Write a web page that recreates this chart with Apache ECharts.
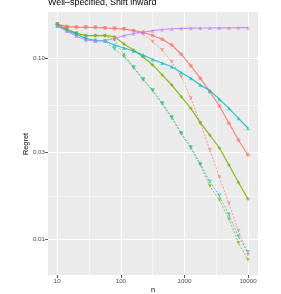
<!DOCTYPE html>
<html><head><meta charset="utf-8">
<script src="https://cdn.jsdelivr.net/npm/echarts@6/dist/echarts.min.js"></script>
<style>html,body{margin:0;padding:0;background:#fff}#c{width:281px;height:294px}</style>
</head><body><div id="c"></div>
<script>
const titleText = 'Well\u2013specified, Shift inward';
const nValues = [10, 14.13, 19.95, 28.18, 39.81, 56.23, 79.43, 112.2, 158.5, 223.9, 316.2, 446.7, 631.0, 891.3, 1259, 1778, 2512, 3548, 5012, 7079, 10000];
const xTicks = [10, 100, 1000, 10000];
const xMinor = [31.62, 316.2, 3162];
const yTicks = [0.01, 0.03, 0.10];
const yMinor = [0.01732, 0.05477];

const redSolid   = [0.1535, 0.1489, 0.1478, 0.1478, 0.1474, 0.1464, 0.1455, 0.1446, 0.1415, 0.1387, 0.1331, 0.1269, 0.1180, 0.1048, 0.0907, 0.0772, 0.0651, 0.0543, 0.0436, 0.0352, 0.0291];
const redDashed  = [0.1535, 0.1489, 0.1478, 0.1478, 0.1474, 0.1464, 0.1455, 0.1446, 0.1410, 0.1357, 0.1230, 0.1107, 0.0954, 0.0788, 0.0599, 0.0437, 0.0310, 0.0219, 0.0157, 0.0111, 0.00816];
const greenSolid = [0.1535, 0.1446, 0.1369, 0.1328, 0.1328, 0.1328, 0.1312, 0.1195, 0.1107, 0.1013, 0.0915, 0.0806, 0.0709, 0.0611, 0.0527, 0.0439, 0.0375, 0.0318, 0.0256, 0.0205, 0.0166];
const greenDashed= [0.1535, 0.1446, 0.1369, 0.1328, 0.1328, 0.1328, 0.1257, 0.1039, 0.0881, 0.0756, 0.0657, 0.0557, 0.0466, 0.0380, 0.0318, 0.0256, 0.0196, 0.0164, 0.0129, 0.0095, 0.00766];
const cyanSolid  = [0.1502, 0.1419, 0.1357, 0.1281, 0.1249, 0.1241, 0.1180, 0.1135, 0.1093, 0.1039, 0.0981, 0.0938, 0.0895, 0.0832, 0.0772, 0.0709, 0.0660, 0.0591, 0.0527, 0.0464, 0.0409];
const cyanDashed = [0.1502, 0.1419, 0.1357, 0.1281, 0.1249, 0.1241, 0.1121, 0.1013, 0.0892, 0.0766, 0.0665, 0.0564, 0.0472, 0.0385, 0.0322, 0.0260, 0.0207, 0.0173, 0.0136, 0.0103, 0.00848];
const purple     = [0.1522, 0.1410, 0.1323, 0.1257, 0.1241, 0.1249, 0.1281, 0.1331, 0.1366, 0.1387, 0.1415, 0.1437, 0.1450, 0.1459, 0.1461, 0.1464, 0.1464, 0.1466, 0.1468, 0.1470, 0.1470];

const seriesDefs = [
  {name:'red solid', data:redSolid, color:'#F8766D', dash:false, symbol:'circle', rot:0},
  {name:'red dashed', data:redDashed, color:'#F8766D', dash:true, symbol:'triangle', rot:180},
  {name:'green solid', data:greenSolid, color:'#7CAE00', dash:false, symbol:'diamond', rot:0},
  {name:'green dashed', data:greenDashed, color:'#7CAE00', dash:true, symbol:'triangle', rot:180},
  {name:'cyan solid', data:cyanSolid, color:'#00BFC4', dash:false, symbol:'triangle', rot:0},
  {name:'cyan dashed', data:cyanDashed, color:'#00BFC4', dash:true, symbol:'triangle', rot:180},
  {name:'purple', data:purple, color:'#C77CFF', dash:false, symbol:'triangle', rot:0}
];

const font = 'Liberation Sans, Arial, sans-serif';
const chart = echarts.init(document.getElementById('c'), null, {renderer:'canvas'});

function axisCommon(ticks, fmt, minor) {
  return {
    type:'log', logBase:10,
    axisLine:{show:false},
    axisTick:{show:!minor, length:3, lineStyle:{color:'#333333', width:0.8}, customValues: ticks},
    axisLabel:{show:!minor, customValues: ticks, formatter: fmt, color:'#4D4D4D', fontSize:6.2, fontFamily:font, margin:3},
    splitLine:{show:true, lineStyle:{color:'#FFFFFF', width: minor ? 0.55 : 1.1}},
    minorTick:{show:false}, minorSplitLine:{show:false}
  };
}

const option = {
  animation:false,
  grid:{left:48, right:23, top:12, bottom:19, show:true, backgroundColor:'#EBEBEB', borderWidth:0},
  xAxis:[
    Object.assign(axisCommon(xTicks, v => String(Math.round(v)), false), {min:7.15, max:14350, position:'bottom'}),
    Object.assign(axisCommon(xMinor, v => '', true), {min:7.15, max:14350, position:'bottom'})
  ],
  yAxis:[
    Object.assign(axisCommon(yTicks, v => v.toFixed(2), false), {min:0.00632, max:0.1795, position:'left'}),
    Object.assign(axisCommon(yMinor, v => '', true), {min:0.00632, max:0.1795, position:'left'})
  ],
  graphic:[
    {type:'text', left:48, top:-2, style:{text:titleText, font:'8.9px ' + font, fill:'#000000'}},
    {type:'text', x:26, y:144, rotation:Math.PI/2, style:{text:'Regret', font:'7.4px ' + font, fill:'#000000', align:'center', verticalAlign:'middle'}},
    {type:'text', x:153, y:290, style:{text:'n', font:'7.4px ' + font, fill:'#000000', align:'center', verticalAlign:'middle'}}
  ],
  series: seriesDefs.map(s => ({
    name:s.name, type:'line', xAxisIndex:0, yAxisIndex:0,
    data: nValues.map((n,i) => [n, s.data[i]]),
    symbol:s.symbol, symbolSize:4, symbolRotate:s.rot,
    showSymbol:true,
    lineStyle:{color:s.color, width: s.dash ? 0.8 : 1.2, type: s.dash ? [2,1.5] : 'solid', opacity:0.85},
    itemStyle:{color:s.color, opacity:0.6},
    z:3
  }))
};
chart.setOption(option);
</script></body></html>
